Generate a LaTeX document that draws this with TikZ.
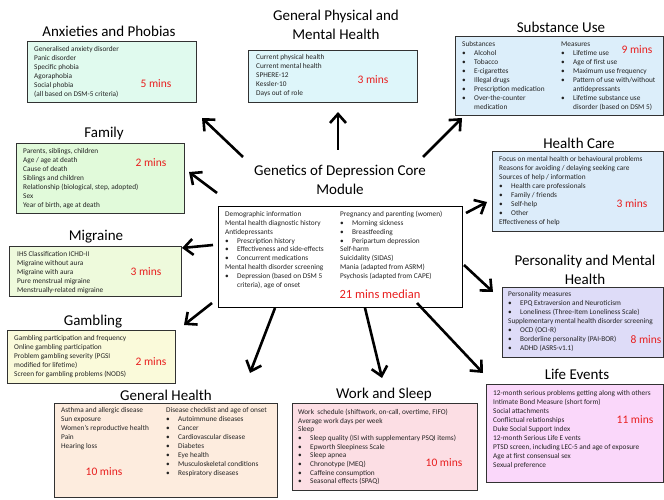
\documentclass[tikz,border=0pt]{standalone}
\usepackage{fontspec}
\setmainfont{Carlito}
\usetikzlibrary{arrows.meta}
\definecolor{boxline}{RGB}{50,50,50}
\definecolor{txtc}{RGB}{35,35,35}
\definecolor{minsred}{RGB}{232,30,30}
\definecolor{anxfill}{RGB}{224,250,238}
\definecolor{gphfill}{RGB}{222,246,250}
\definecolor{subfill}{RGB}{220,238,250}
\definecolor{hcfill}{RGB}{220,236,250}
\definecolor{famfill}{RGB}{225,250,218}
\definecolor{migfill}{RGB}{238,250,220}
\definecolor{gamfill}{RGB}{250,250,218}
\definecolor{ghfill}{RGB}{253,236,222}
\definecolor{wsfill}{RGB}{252,222,228}
\definecolor{lefill}{RGB}{250,215,250}
\definecolor{pmfill}{RGB}{222,220,248}
\newcommand{\bitem}{\makebox[12pt][l]{\textbullet}}
\newcommand{\bind}{\hspace*{12pt}}
\tikzset{
  box/.style={draw=boxline, line width=1.1pt, anchor=north west, inner sep=0pt},
  ttl/.style={font=\fontsize{15}{19}\selectfont, align=center, inner sep=0pt},
  txt/.style={font=\fontsize{7.3}{9}\selectfont, anchor=base west, inner sep=0pt, text=txtc},
  mins/.style={font=\fontsize{11.5}{13}\selectfont, text=minsred, inner sep=0pt},
  arr/.style={line width=2.6pt, -{Straight Barb[length=9pt,width=16pt]}},
}
\begin{document}
\begin{tikzpicture}[x=1pt,y=-1pt]
\useasboundingbox (0,0) rectangle (664,500);
\fill[white] (0,0) rectangle (664,500);

% ---------- Anxieties and Phobias
\node[ttl] (anxT) at (109,31) {Anxieties and Phobias};
\node[box, fill=anxfill, minimum width=169pt, minimum height=61pt] (anx) at (27,41) {};
\node[txt] (anxX) at (34,51.5) {\begin{tabular}[t]{@{}l@{}}Generalised anxiety disorder\\Panic disorder\\Specific phobia\\Agoraphobia\\Social phobia\\(all based on DSM-5 criteria)\end{tabular}};
\node[mins] (anxM) at (156,84) {5 mins};

% ---------- General Physical and Mental Health
\node[ttl] (gphT) at (336,24.5) {General Physical and\\Mental Health};
\node[box, fill=gphfill, minimum width=169pt, minimum height=52pt] (gph) at (248,50) {};
\node[txt] (gphX) at (256,60) {\begin{tabular}[t]{@{}l@{}}Current physical health\\Current mental health\\SPHERE-12\\Kessler-10\\Days out of role\end{tabular}};
\node[mins] (gphM) at (373,80) {3 mins};

% ---------- Substance Use
\node[ttl] (subT) at (561,27) {Substance Use};
\node[box, fill=subfill, minimum width=208pt, minimum height=79pt] (sub) at (455,36) {};
\node[txt] (subX) at (462,46.3) {\begin{tabular}[t]{@{}l@{}}Substances\\\bitem Alcohol\\\bitem Tobacco\\\bitem E-cigarettes\\\bitem Illegal drugs\\\bitem Prescription medication\\\bitem Over-the-counter\\\bind medication\end{tabular}};
\node[txt] (subY) at (561,46.3) {\begin{tabular}[t]{@{}l@{}}Measures\\\bitem Lifetime use\\\bitem Age of first use\\\bitem Maximum use frequency\\\bitem Pattern of use with/without\\\bind antidepressants\\\bitem Lifetime substance use\\\bind disorder (based on DSM 5)\end{tabular}};
\node[mins] (subM) at (637,50) {9 mins};

% ---------- Health Care
\node[ttl] (hcT) at (579,143) {Health Care};
\node[box, fill=hcfill, minimum width=171pt, minimum height=80pt] (hc) at (492,151) {};
\node[txt] (hcX) at (499,161.5) {\begin{tabular}[t]{@{}l@{}}Focus on mental health or behavioural problems\\Reasons for avoiding / delaying seeking care\\Sources of help / information\\\bitem Health care professionals\\\bitem Family / friends\\\bitem Self-help\\\bitem Other\\Effectiveness of help\end{tabular}};
\node[mins] (hcM) at (632,204) {3 mins};

% ---------- Family
\node[ttl] (famT) at (104,134) {Family};
\node[box, fill=famfill, minimum width=168pt, minimum height=70pt] (fam) at (16,143) {};
\node[txt] (famX) at (23,153.3) {\begin{tabular}[t]{@{}l@{}}Parents, siblings, children\\Age / age at death\\Cause of death\\Siblings and children\\Relationship (biological, step, adopted)\\Sex\\Year of birth, age at death\end{tabular}};
\node[mins] (famM) at (151,163) {2 mins};

% ---------- Migraine
\node[ttl] (migT) at (96,237) {Migraine};
\node[box, fill=migfill, minimum width=172pt, minimum height=50pt] (mig) at (9,246) {};
\node[txt] (migX) at (17,256.3) {\begin{tabular}[t]{@{}l@{}}IHS Classification ICHD-II\\Migraine without aura\\Migraine with aura\\Pure menstrual migraine\\Menstrually-related migraine\end{tabular}};
\node[mins] (migM) at (146,272) {3 mins};

% ---------- Gambling
\node[ttl] (gamT) at (93,322) {Gambling};
\node[box, fill=gamfill, minimum width=168pt, minimum height=53pt] (gam) at (7,330) {};
\node[txt] (gamX) at (14,340.3) {\begin{tabular}[t]{@{}l@{}}Gambling participation and frequency\\Online gambling participation\\Problem gambling severity (PGSI\\modified for lifetime)\\Screen for gambling problems (NODS)\end{tabular}};
\node[mins] (gamM) at (151,362) {2 mins};

% ---------- General Health
\node[ttl] (ghT) at (166,395) {General Health};
\node[box, fill=ghfill, minimum width=223pt, minimum height=94pt] (gh) at (54,403) {};
\node[txt] (ghX) at (61,412.3) {\begin{tabular}[t]{@{}l@{}}Asthma and allergic disease\\Sun exposure\\Women's reproductive health\\Pain\\Hearing loss\end{tabular}};
\node[txt] (ghY) at (166,412.3) {\begin{tabular}[t]{@{}l@{}}Disease checklist and age of onset\\\bitem Autoimmune diseases\\\bitem Cancer\\\bitem Cardiovascular disease\\\bitem Diabetes\\\bitem Eye health\\\bitem Musculoskeletal conditions\\\bitem Respiratory diseases\end{tabular}};
\node[mins] (ghM) at (104,472) {10 mins};

% ---------- Work and Sleep
\node[ttl] (wsT) at (384,394) {Work and Sleep};
\node[box, fill=wsfill, minimum width=185pt, minimum height=87pt] (ws) at (292,403) {};
\node[txt, font=\fontsize{7.3}{8.7}\selectfont] (wsX) at (298,414.3) {\begin{tabular}[t]{@{}l@{}}Work\ \ schedule (shiftwork, on-call, overtime, FIFO)\\Average work days per week\\Sleep\\\bitem Sleep quality (ISI with supplementary PSQI items)\\\bitem Epworth Sleepiness Scale\\\bitem Sleep apnea\\\bitem Chronotype (MEQ)\\\bitem Caffeine consumption\\\bitem Seasonal effects (SPAQ)\end{tabular}};
\node[mins] (wsM) at (444,463) {10 mins};

% ---------- Life Events
\node[ttl] (leT) at (577,374) {Life Events};
\node[box, fill=lefill, minimum width=177pt, minimum height=98pt] (le) at (486,384) {};
\node[txt] (leX) at (493,395.3) {\begin{tabular}[t]{@{}l@{}}12-month serious problems getting along with others\\Intimate Bond Measure (short form)\\Social attachments\\Conflictual relationships\\Duke Social Support Index\\12-month Serious Life E vents\\PTSD screen, including LEC-5 and age of exposure\\Age at first consensual sex\\Sexual preference\end{tabular}};
\node[mins] (leM) at (635,420) {11 mins};

% ---------- Personality and Mental Health
\node[ttl] (pmT) at (585,269.5) {Personality and Mental\\Health};
\node[box, fill=pmfill, minimum width=161pt, minimum height=70pt] (pm) at (502,287) {};
\node[txt] (pmX) at (508,296.3) {\begin{tabular}[t]{@{}l@{}}Personality measures\\\bitem EPQ Extraversion and Neuroticism\\\bitem Loneliness (Three-Item Loneliness Scale)\\Supplementary mental health disorder screening\\\bitem OCD (OCI-R)\\\bitem Borderline personality (PAI-BOR)\\\bitem ADHD (ASRS-v1.1)\end{tabular}};
\node[mins] (pmM) at (646,340) {8 mins};

% ---------- Core module
\node[ttl] (coreT) at (340,179.5) {Genetics of Depression Core\\Module};
\node[box, draw=black, fill=white, minimum width=244pt, minimum height=101pt] (core) at (218,206) {};
\node[txt, font=\fontsize{7.3}{8.9}\selectfont] (coreX) at (225,216.3) {\begin{tabular}[t]{@{}l@{}}Demographic information\\Mental health diagnostic history\\Antidepressants\\\bitem Prescription history\\\bitem Effectiveness and side-effects\\\bitem Concurrent medications\\Mental health disorder screening\\\bitem Depression (based on DSM 5\\\bind criteria), age of onset\end{tabular}};
\node[txt, font=\fontsize{7.3}{8.9}\selectfont] (coreY) at (340,216.3) {\begin{tabular}[t]{@{}l@{}}Pregnancy and parenting (women)\\\bitem Morning sickness\\\bitem Breastfeeding\\\bitem Peripartum depression\\Self-harm\\Suicidality (SIDAS)\\Mania (adapted from ASRM)\\Psychosis (adapted from CAPE)\end{tabular}};
\node[mins, font=\fontsize{12.5}{14}\selectfont] (coreM) at (380,294) {21 mins median};

% ---------- arrows
\coordinate (anxS) at (243,157); \coordinate (anxE) at (202,118);
\coordinate (gphS) at (338,150); \coordinate (gphE) at (338,112);
\coordinate (subS) at (423,157); \coordinate (subE) at (462,118);
\coordinate (famS) at (217,193); \coordinate (famE) at (189,172);
\coordinate (migS) at (213,245); \coordinate (migE) at (182,248);
\coordinate (gamS) at (212,303); \coordinate (gamE) at (184,325);
\coordinate (ghS) at (275,308); \coordinate (ghE) at (250,373);
\coordinate (wsS) at (365,308); \coordinate (wsE) at (382,378);
\coordinate (leS) at (417,303); \coordinate (leE) at (483,373);
\coordinate (pmS) at (464,265); \coordinate (pmE) at (493,292);
\coordinate (hcS) at (466,213); \coordinate (hcE) at (487,202);
\foreach \a in {anx,gph,sub,fam,mig,gam,gh,ws,le,pm,hc}
  \draw[arr] (\a S) -- (\a E);
\end{tikzpicture}
\end{document}
